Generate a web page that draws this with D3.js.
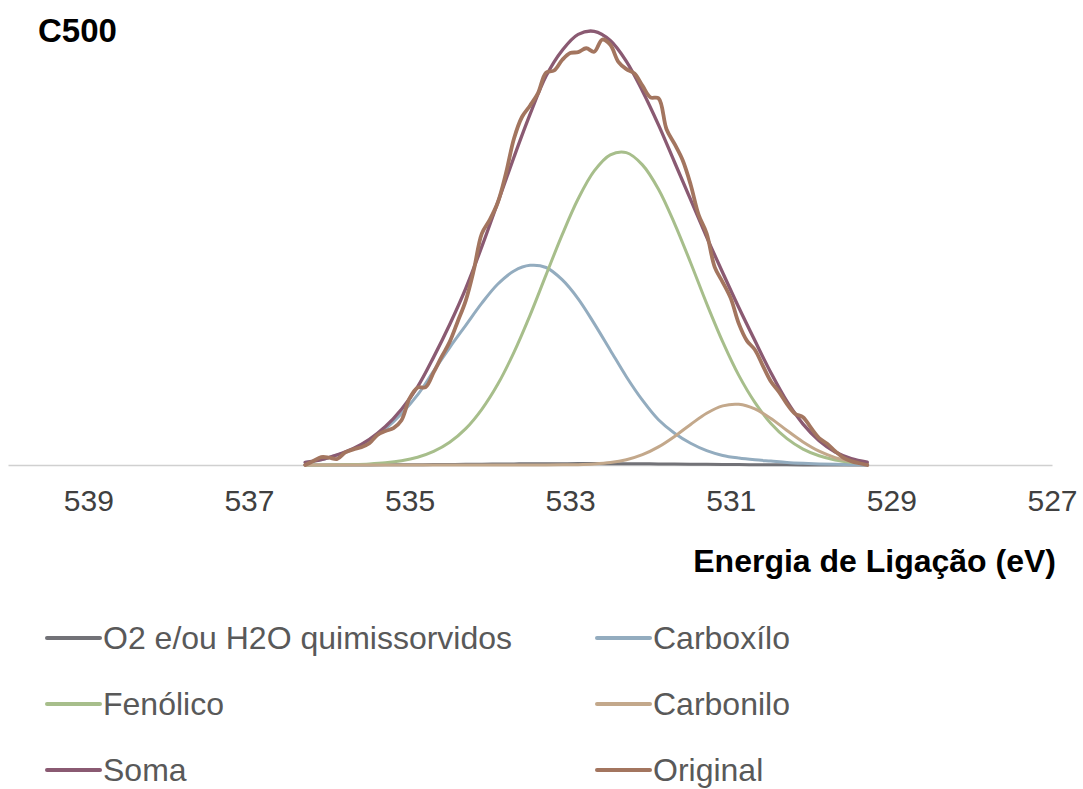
<!DOCTYPE html>
<html>
<head>
<meta charset="utf-8">
<script src="https://cdn.jsdelivr.net/npm/d3@7"></script>
<style>
  body { margin: 0; background: #ffffff; }
  svg { display: block; }
  text { font-family: "Liberation Sans", Arial, sans-serif; }
</style>
</head>
<body>
<svg id="chart" width="1083" height="789"></svg>
<script>
// Binding energy grid of the fitted components (eV)
const fitEnergy = [536.3, 536.1, 535.9, 535.7, 535.5, 535.3, 535.1, 534.9, 534.7, 534.5,
  534.3, 534.1, 533.9, 533.7, 533.5, 533.3, 533.1, 532.9, 532.7, 532.5,
  532.3, 532.1, 531.9, 531.7, 531.5, 531.3, 531.1, 530.9, 530.7, 530.5,
  530.3, 530.1, 529.9, 529.7, 529.5, 529.3];

// Fitted component intensities (a.u.)
const o2h2o = [0, 0, 0.01, 0.01, 0.02, 0.03, 0.05, 0.07, 0.09, 0.12,
  0.15, 0.19, 0.22, 0.25, 0.28, 0.30, 0.31, 0.32, 0.32, 0.31,
  0.30, 0.28, 0.25, 0.22, 0.19, 0.15, 0.12, 0.09, 0.07, 0.05,
  0.03, 0.02, 0.01, 0.01, 0, 0];
const carboxilo = [0.6, 1.2, 2.29, 3.66, 5.63, 8.31, 11.8, 16.1, 21.6, 27.0,
  32.1, 37.2, 41.6, 44.6, 45.9, 45.4, 42.6, 38.2, 32.5, 26.4,
  20.3, 14.9, 10.4, 7.3, 5.0, 3.3, 2.2, 1.6, 1.2, 0.9,
  0.6, 0.4, 0.25, 0.15, 0.08, 0];
const fenolico = [0.01, 0.02, 0.05, 0.12, 0.25, 0.50, 0.97, 1.78, 3.12, 5.23,
  8.36, 12.8, 18.6, 25.9, 34.4, 43.7, 52.9, 61.2, 67.6, 71.3,
  71.8, 69.0, 63.4, 55.5, 46.5, 37.1, 28.3, 20.6, 14.4, 9.54,
  6.05, 3.66, 2.12, 1.17, 0.62, 0.31];
const carbonilo = [0, 0, 0, 0, 0, 0, 0, 0, 0, 0,
  0, 0, 0, 0, 0, 0.01, 0.03, 0.08, 0.23, 0.55,
  1.21, 2.37, 4.16, 6.57, 9.32, 11.9, 13.6, 13.95, 12.9, 10.7,
  7.93, 5.30, 3.18, 1.71, 0.83, 0.36];
const soma = [0.61, 1.22, 2.35, 3.79, 5.90, 8.84, 12.82, 17.95, 24.8, 32.3,
  40.61, 50.19, 60.42, 70.75, 80.58, 89.4, 95.3, 99.0, 99.7, 97.6,
  92.8, 86.0, 78.2, 69.6, 61.0, 52.4, 44.2, 36.2, 28.6, 21.2,
  14.6, 9.4, 5.6, 3.0, 1.5, 0.67];

// Measured spectrum, 0.1 eV step
const rawEnergy = [536.3, 536.2, 536.1, 536.0, 535.9, 535.8, 535.7, 535.6, 535.5, 535.4,
  535.3, 535.2, 535.1, 535.0, 534.9, 534.8, 534.7, 534.6, 534.5, 534.4,
  534.3, 534.2, 534.1, 534.0, 533.9, 533.8, 533.7, 533.6, 533.5, 533.4,
  533.3, 533.2, 533.1, 533.0, 532.9, 532.8, 532.7, 532.6, 532.5, 532.4,
  532.3, 532.2, 532.1, 532.0, 531.9, 531.8, 531.7, 531.6, 531.5, 531.4,
  531.3, 531.2, 531.1, 531.0, 530.9, 530.8, 530.7, 530.6, 530.5, 530.4,
  530.3, 530.2, 530.1, 530.0, 529.9, 529.8, 529.7, 529.6, 529.5, 529.4,
  529.3];
const original = [0.0, 0.9, 1.8, 1.7, 1.4, 2.9, 3.6, 4.1, 5.0, 6.9,
  7.8, 8.5, 10.3, 15.3, 17.8, 17.9, 21.3, 24.9, 28.3, 33.0,
  37.8, 44.8, 53.2, 56.4, 60.4, 67.0, 75.0, 80.0, 82.6, 85.5,
  90.2, 90.7, 93.1, 94.7, 94.9, 95.8, 95.0, 97.8, 96.6, 92.7,
  91.0, 90.0, 87.2, 84.5, 84.3, 77.2, 73.8, 70.1, 64.5, 57.5,
  53.2, 45.5, 42.0, 38.3, 32.5, 28.6, 26.5, 22.8, 19.2, 16.8,
  14.0, 11.8, 11.0, 8.5, 6.2, 4.9, 3.2, 1.7, 0.9, 0.4,
  0.0];

const tickValues = [539, 537, 535, 533, 531, 529, 527];

const seriesNames = ["O2 e/ou H2O quimissorvidos", "Carboxílo", "Fenólico", "Carbonilo", "Soma", "Original"];
const seriesColors = ["#727277", "#93acbf", "#a7be8b", "#c3a88b", "#8a5a72", "#a3755f"];

const svg = d3.select("#chart");

const x = d3.scaleLinear().domain([540, 527]).range([8, 1052]);
const y = d3.scaleLinear().domain([0, 100]).range([465, 30]);

// x axis: baseline plus labels only
const xAxis = svg.append("g")
  .attr("transform", "translate(0,465)")
  .call(d3.axisBottom(x).tickValues(tickValues).tickSize(0).tickPadding(25).tickFormat(d3.format("d")));
xAxis.select(".domain").attr("stroke", "#d0d0d0").attr("stroke-width", 1.5);
xAxis.selectAll(".tick text")
  .attr("fill", "#404040")
  .style("font-size", "30px")
  .style("font-family", "'Liberation Sans', Arial, sans-serif");

const line = d3.line()
  .x(d => x(d[0]))
  .y(d => y(d[1]))
  .curve(d3.curveCatmullRom.alpha(0.5));

const fitSeries = [o2h2o, carboxilo, fenolico, carbonilo, soma];
const plot = svg.append("g").attr("fill", "none").attr("stroke-linejoin", "round").attr("stroke-linecap", "round");

fitSeries.forEach((vals, i) => {
  plot.append("path")
    .datum(fitEnergy.map((e, k) => [e, vals[k]]))
    .attr("d", line)
    .attr("stroke", seriesColors[i])
    .attr("stroke-width", i === 4 ? 3.3 : 3);
});

plot.append("path")
  .datum(rawEnergy.map((e, k) => [e, original[k]]))
  .attr("d", line)
  .attr("stroke", seriesColors[5])
  .attr("stroke-width", 3.8);

// Title
svg.append("text")
  .attr("x", 38).attr("y", 42)
  .attr("font-weight", "bold")
  .attr("font-size", 33)
  .attr("fill", "#000")
  .text("C500");

// Axis title
svg.append("text")
  .attr("x", 1056).attr("y", 572)
  .attr("text-anchor", "end")
  .attr("font-weight", "bold")
  .attr("font-size", 32)
  .attr("fill", "#000")
  .text("Energia de Ligação (eV)");

// Legend: two columns, three rows
const legend = svg.append("g");
seriesNames.forEach((name, i) => {
  const col = i % 2, row = Math.floor(i / 2);
  const lx = col === 0 ? 47 : 597;
  const ly = 638 + row * 66;
  legend.append("line")
    .attr("x1", lx).attr("x2", lx + 53)
    .attr("y1", ly).attr("y2", ly)
    .attr("stroke", seriesColors[i])
    .attr("stroke-width", 4)
    .attr("stroke-linecap", "round");
  legend.append("text")
    .attr("x", lx + 56).attr("y", ly)
    .attr("dy", "0.35em")
    .attr("font-size", 32)
    .attr("fill", "#595959")
    .text(name);
});
</script>
</body>
</html>
